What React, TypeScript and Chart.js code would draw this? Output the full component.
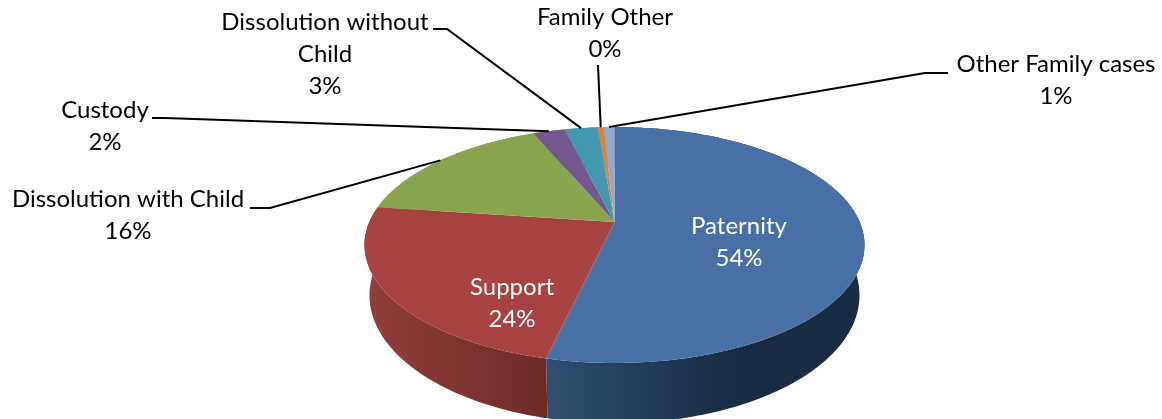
import React, { useEffect, useRef } from "react";
import { Chart, registerables } from "chart.js";

Chart.register(...registerables);

const categories = ["Paternity", "Support", "Dissolution with Child", "Custody", "Dissolution without Child", "Family Other", "Other Family cases"];
const values = [53.6, 23.5, 16.5, 2.45, 2.6, 0.46, 0.84];
const percentLabels = ["54%", "24%", "16%", "2%", "3%", "0%", "1%"];
const colors = ["#4771a6", "#a64341", "#89a44e", "#71588f", "#4298af", "#db843d", "#93a9cf"];

// label layout: lines, centre x, first baseline-middle y, colour, leader elbow points
const labelLayout: any[] = [
  { lines: ["Paternity"], x: 739, y: 226, color: "#ffffff" },
  { lines: ["Support"], x: 512, y: 287, color: "#ffffff" },
  { lines: ["Dissolution with Child"], x: 128, y: 199, color: "#000000", leader: [[250, 208], [270, 208]] },
  { lines: ["Custody"], x: 105, y: 110, color: "#000000", leader: [[152, 118], [165, 118]] },
  { lines: ["Dissolution without", "Child"], x: 325, y: 22, color: "#000000", leader: [[433, 29], [447, 29]] },
  { lines: ["Family Other"], x: 605, y: 17, color: "#000000", leader: [[598, 65]] },
  { lines: ["Other Family cases"], x: 1056, y: 64, color: "#000000", leader: [[948, 73], [925, 73]] },
];

const FONT = "24px Lato";
const LINE = 32.3;
const CX = 614.5, CY = 222, R = 245.2, A = 113.5, K = 0.195, D = 48.5, SHRINK = 0.98;

const project = (angle: number, depth: number) => {
  const u = Math.cos(angle), v = -Math.sin(angle);
  const w = 1 + K * v;
  const s = depth ? SHRINK : 1;
  return { x: CX + (R * u * s) / w, y: CY + (-A * v + depth) / w };
};

const pie3d = {
  id: "pie3d",
  beforeDatasetsDraw(chart: any) {
    const ctx = chart.ctx;
    const arcs = chart.getDatasetMeta(0).data;
    const ringPath = (start: number, end: number, depth: number, first: boolean) => {
      const n = Math.max(2, Math.ceil(Math.abs(end - start) * 60));
      for (let i = 0; i <= n; i++) {
        const p = project(start + ((end - start) * i) / n, depth);
        if (i === 0 && first) ctx.moveTo(p.x, p.y);
        else ctx.lineTo(p.x, p.y);
      }
    };
    const wallStops: Record<number, [number, number, string, string]> = {
      0: [549, 730, "#2f4e70", "#1a2c42"],
      1: [365, 549, "#933e3b", "#6d2a29"],
    };
    // outer wall
    arcs.forEach((arc: any, i: number) => {
      ctx.beginPath();
      ringPath(arc.startAngle, arc.endAngle, 0, true);
      ringPath(arc.endAngle, arc.startAngle, D, false);
      ctx.closePath();
      const st = wallStops[i];
      if (st) {
        const g = ctx.createLinearGradient(st[0], 0, st[1], 0);
        g.addColorStop(0, st[2]);
        g.addColorStop(1, st[3]);
        ctx.fillStyle = g;
      } else ctx.fillStyle = colors[i];
      ctx.fill();
    });
    // top faces
    arcs.forEach((arc: any, i: number) => {
      ctx.beginPath();
      ctx.moveTo(CX, CY);
      ringPath(arc.startAngle, arc.endAngle, 0, false);
      ctx.closePath();
      ctx.fillStyle = colors[i];
      ctx.fill();
    });
    // leaders and labels
    ctx.textAlign = "center";
    ctx.textBaseline = "middle";
    ctx.font = FONT;
    arcs.forEach((arc: any, i: number) => {
      const l = labelLayout[i];
      if (l.leader) {
        const a = project((arc.startAngle + arc.endAngle) / 2, 0);
        ctx.beginPath();
        l.leader.forEach((p: number[], j: number) => (j ? ctx.lineTo(p[0], p[1]) : ctx.moveTo(p[0], p[1])));
        ctx.lineTo(a.x, a.y);
        ctx.strokeStyle = "#000000";
        ctx.lineWidth = 2;
        ctx.stroke();
      }
      ctx.fillStyle = l.color;
      [...l.lines, percentLabels[i]].forEach((t: string, j: number) => ctx.fillText(t, l.x, l.y + j * LINE));
    });
    return false;
  },
};

export default function App() {
  const ref = useRef<HTMLCanvasElement>(null);
  useEffect(() => {
    const chart = new Chart(ref.current!, {
      type: "pie",
      data: { labels: categories, datasets: [{ data: values, backgroundColor: colors, borderWidth: 0 }] },
      options: {
        responsive: false,
        animation: false,
        plugins: { legend: { display: false }, tooltip: { enabled: false } },
      },
      plugins: [pie3d],
    } as any);
    return () => chart.destroy();
  }, []);
  return (
    <div style={{ position: "absolute", left: 0, top: 0, width: 1162, height: 419, overflow: "hidden", background: "#fff" }}>
      <canvas ref={ref} width={1162} height={419} style={{ display: "block" }} />
    </div>
  );
}
